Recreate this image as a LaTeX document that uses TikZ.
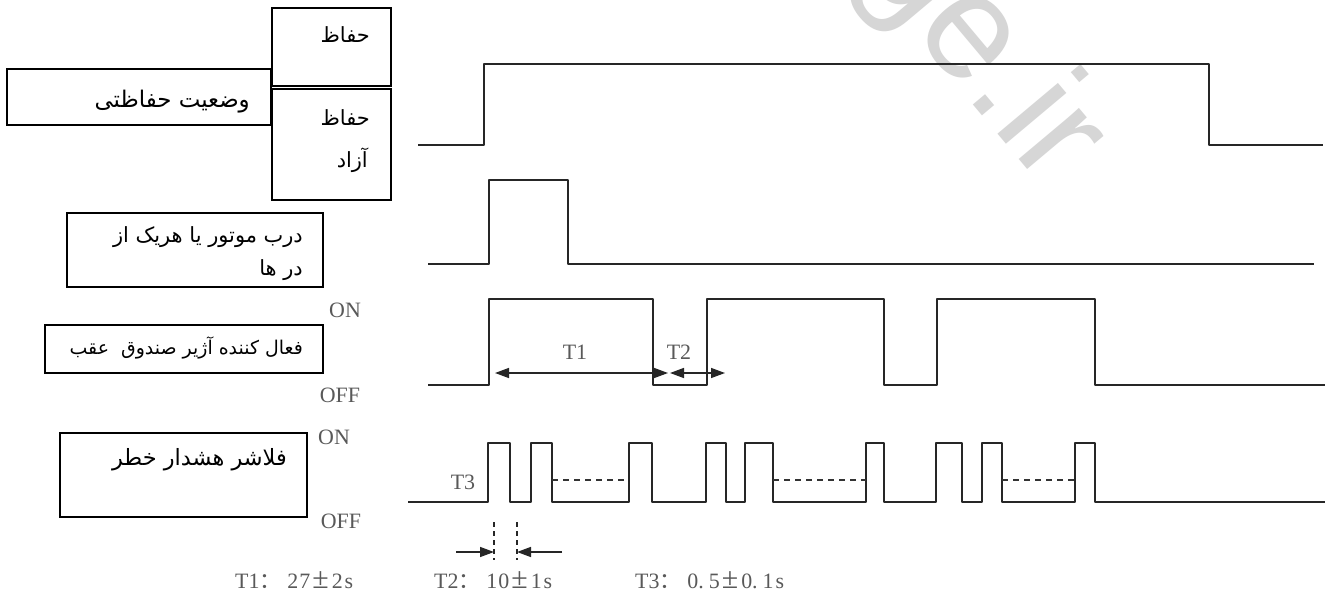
\documentclass[tikz,border=0pt]{standalone}
\usepackage{fontspec}
\setmainfont{Liberation Serif}
\newfontfamily\arabicfont[Script=Arabic]{DejaVu Sans}
\newfontfamily\cjkfont{Noto Sans CJK SC}
\newfontfamily\wmfont{Liberation Sans}
\TeXXeTstate=1
\usetikzlibrary{arrows.meta}
\newcommand\pmbig{{\fontsize{30}{30}\selectfont ±}}
\begin{document}
\begin{tikzpicture}[x=1bp,y=-1bp,
  box/.style={draw=black, line width=1.4bp, inner sep=0pt, outer sep=0pt, anchor=north west},
  fa/.style={font=\arabicfont\fontsize{#1}{#1}\selectfont, inner sep=0pt, anchor=east},
  fa/.default=16,
  sig/.style={draw=black!85, line width=2.7bp, line join=round},
  lab/.style={font=\fontsize{22}{24}\selectfont, text=black!65, inner sep=0pt},
  leg/.style={font=\fontsize{22}{24}\selectfont, text=black!65, inner sep=0pt, anchor=base west},
  dim/.style={draw=black!85, line width=1.4bp},
  tip/.style={-{Triangle[length=14bp,width=10bp]}},
  tips/.style={{Triangle[length=14bp,width=10bp]}-{Triangle[length=14bp,width=10bp]}},
  dsh/.style={draw=black!80, line width=1.6bp, dash pattern=on 6bp off 5bp}]
\useasboundingbox (0,0) rectangle (1337,603);
\clip (0,0) rectangle (1337,603);
\fill[white] (0,0) rectangle (1337,603);

% watermark
\node[font=\wmfont\fontsize{150}{150}\selectfont, text=black!16, rotate=-50, anchor=base east, inner sep=0pt] (wm) at (1045,190) {ge.ir};

% boxes
\node[box, minimum width=264bp, minimum height=56bp] (bst) at (7,69) {};
\node[box, minimum width=119bp, minimum height=78bp] (btop) at (272,8) {};
\node[box, minimum width=119bp, minimum height=111bp] (bbot) at (272,89) {};
\node[box, minimum width=256bp, minimum height=74bp] (bdoor) at (67,213) {};
\node[box, minimum width=278bp, minimum height=48bp] (btrunk) at (45,325) {};
\node[box, minimum width=247bp, minimum height=84bp] (bflash) at (60,433) {};

% box texts
\node[fa=21] (t1) at (370,35) {\beginR حفاظ\endR};
\node[fa=21] (t2) at (370,118) {\beginR حفاظ\endR};
\node[fa=21] (t3) at (368,160) {\beginR آزاد\endR};
\node[fa=23] (t4) at (250,102) {\beginR وضعیت حفاظتی\endR};
\node[fa=21] (t5) at (303,237) {\beginR درب موتور یا هریک از\endR};
\node[fa=21] (t6) at (303,270) {\beginR در ها\endR};
\node[fa=19] (t7) at (303,348) {\beginR فعال کننده آژیر صندوق\ \ عقب\endR};
\node[fa=22.5] (t8) at (287,460) {\beginR فلاشر هشدار خطر\endR};

% signal 1
\draw[sig] (418,145) -- (484,145) -- (484,64) -- (1209,64) -- (1209,145) -- (1323,145);
% signal 2
\draw[sig] (428,264) -- (489,264) -- (489,180) -- (568,180) -- (568,264) -- (1314,264);
% signal 3
\draw[sig] (428,385) -- (489,385) -- (489,299) -- (653,299) -- (653,385) -- (707,385) -- (707,299)
  -- (884,299) -- (884,385) -- (937,385) -- (937,299) -- (1095,299) -- (1095,385) -- (1325,385);
% signal 4
\draw[sig] (408,502) -- (488,502) -- (488,443) -- (510,443) -- (510,502) -- (531,502) -- (531,443)
  -- (552,443) -- (552,502) -- (629,502) -- (629,443) -- (652,443) -- (652,502) -- (706,502)
  -- (706,443) -- (726,443) -- (726,502) -- (745,502) -- (745,443) -- (773,443) -- (773,502)
  -- (866,502) -- (866,443) -- (884,443) -- (884,502) -- (936,502) -- (936,443) -- (962,443)
  -- (962,502) -- (982,502) -- (982,443) -- (1002,443) -- (1002,502) -- (1075,502) -- (1075,443)
  -- (1095,443) -- (1095,502) -- (1325,502);
\draw[dsh] (552,480) -- (629,480);
\draw[dsh] (773,480) -- (866,480);
\draw[dsh] (1002,480) -- (1075,480);

% ON/OFF labels
\node[lab] (on1) at (345,310) {ON};
\node[lab] (off1) at (340,395) {OFF};
\node[lab] (on2) at (334,437) {ON};
\node[lab] (off2) at (341,521) {OFF};

% T1, T2 dimensions
\coordinate (a1) at (495,373);
\coordinate (a2) at (668,373);
\coordinate (a3) at (670,373);
\coordinate (a4) at (725,373);
\draw[dim, tips] (a1) -- (a2);
\draw[dim, tips] (a3) -- (a4);
\node[lab] (lt1) at (575,352) {T1};
\node[lab] (lt2) at (679,352) {T2};
\node[lab] (lt3) at (463,482) {T3};

% T3 dimension
\coordinate (d1t) at (494,522); \coordinate (d1b) at (494,560);
\coordinate (d2t) at (517,522); \coordinate (d2b) at (517,560);
\draw[dim, dash pattern=on 5bp off 4bp] (d1t) -- (d1b);
\draw[dim, dash pattern=on 5bp off 4bp] (d2t) -- (d2b);
\coordinate (e1) at (456,552); \coordinate (e1t) at (494,552);
\coordinate (e2) at (562,552); \coordinate (e2t) at (517,552);
\draw[dim, tip] (e1) -- (e1t);
\draw[dim, tip] (e2) -- (e2t);

% bottom legend
\node[leg] (L1) at (235,588) {T1{\cjkfont ：}\hspace{6bp}2\hspace{1bp}7\hspace{2bp}\pmbig\hspace{3bp}2\hspace{2bp}s};
\node[leg] (L2) at (434,588) {T2{\cjkfont ：}\hspace{6bp}1\hspace{1bp}0\hspace{2bp}\pmbig\hspace{3bp}1\hspace{2bp}s};
\node[leg] (L3) at (635,588) {T3{\cjkfont ：}\hspace{6bp}0.\hspace{5bp}5\hspace{2bp}\pmbig\hspace{3bp}0.\hspace{5bp}1\hspace{2bp}s};
\end{tikzpicture}
\end{document}
